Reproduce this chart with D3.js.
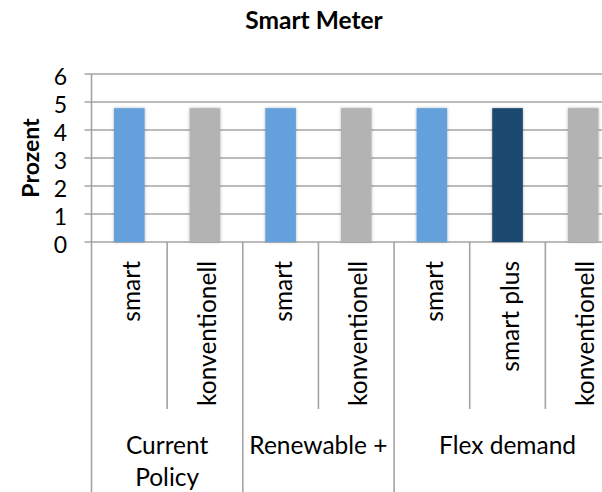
<!DOCTYPE html>
<html>
<head>
<meta charset="utf-8">
<script src="https://cdn.jsdelivr.net/npm/d3@7"></script>
<style>
  html, body { margin: 0; padding: 0; background: #ffffff; }
  svg { display: block; font-family: Lato, "Noto Sans", sans-serif; }
</style>
</head>
<body>
<svg id="chart" width="602" height="492"></svg>
<script>
// Scenario groups with their label lines (as wrapped under the axis)
const groupNames = ["Current Policy", "Renewable +", "Flex demand"];
const groupLines = [["Current", "Policy"], ["Renewable +"], ["Flex demand"]];
// Meter types, one bar each, and the group each one belongs to
const categories = ["smart", "konventionell", "smart", "konventionell", "smart", "smart plus", "konventionell"];
const categoryGroup = [0, 0, 1, 1, 2, 2, 2];
// Share in percent
const values = [4.78, 4.78, 4.78, 4.78, 4.78, 4.78, 4.78];
// Value axis ticks
const yTicks = [0, 1, 2, 3, 4, 5, 6];

const colorByType = { "smart": "#64a0dc", "smart plus": "#1f4970", "konventionell": "#b3b3b3" };
const gridColor = "#a3a3a3";

const svg = d3.select("#chart");
const defs = svg.append("defs");
const shadow = defs.append("filter").attr("id", "barShadow")
  .attr("x", "-30%").attr("y", "-5%").attr("width", "160%").attr("height", "110%");
shadow.append("feDropShadow").attr("dx", 0).attr("dy", 0).attr("stdDeviation", 1.8)
  .attr("flood-color", "#000").attr("flood-opacity", 0.3);

// Plot area (the category axis runs past the right edge of the view)
const plotLeft = 91.5, plotRight = 621, plotTop = 74, zeroY = 242;
const x = d3.scaleBand().domain(d3.range(categories.length)).range([plotLeft, plotRight]);
const y = d3.scaleLinear().domain([0, 6]).range([zeroY, plotTop]);
const barW = x.bandwidth() * 0.405;

// Title
svg.append("text").attr("x", 314).attr("y", 29).attr("text-anchor", "middle")
  .attr("font-weight", "bold").attr("font-size", 24.5).attr("fill", "#000").text("Smart Meter");

// Horizontal gridlines with short outside ticks
svg.append("g").selectAll("line").data(yTicks).join("line")
  .attr("x1", plotLeft - 7).attr("x2", plotRight)
  .attr("y1", d => y(d)).attr("y2", d => y(d))
  .attr("stroke", gridColor).attr("stroke-width", 1.6);

// Value axis labels
svg.append("g").selectAll("text").data(yTicks).join("text")
  .attr("x", 67).attr("y", d => y(d)).attr("dy", "0.47em")
  .attr("text-anchor", "end").attr("font-size", 23).attr("fill", "#000")
  .text(d => d);

// Value axis title
svg.append("text").attr("transform", `translate(39,${(plotTop + zeroY) / 2}) rotate(-90)`)
  .attr("text-anchor", "middle").attr("font-weight", "bold").attr("font-size", 23)
  .attr("fill", "#000").text("Prozent");

// Bars
svg.append("g").selectAll("rect").data(values).join("rect")
  .attr("x", (d, i) => x(i) + (x.bandwidth() - barW) / 2)
  .attr("width", barW)
  .attr("y", d => y(d))
  .attr("height", d => y(0) - y(d))
  .attr("fill", (d, i) => colorByType[categories[i]])
  .attr("filter", "url(#barShadow)");

// Vertical axis line
svg.append("line").attr("x1", plotLeft).attr("x2", plotLeft).attr("y1", plotTop).attr("y2", 492)
  .attr("stroke", gridColor).attr("stroke-width", 1.6);

// Category separators: short ones inside a group, long ones between groups
const bounds = d3.range(categories.length + 1);
const isGroupEdge = i => i === 0 || i === categories.length || categoryGroup[i] !== categoryGroup[i - 1];
const edgeX = i => i === categories.length ? plotRight : x(i);
svg.append("g").selectAll("line").data(bounds.filter(i => i > 0)).join("line")
  .attr("x1", edgeX).attr("x2", edgeX)
  .attr("y1", zeroY).attr("y2", i => isGroupEdge(i) ? 492 : 409)
  .attr("stroke", gridColor).attr("stroke-width", 1.6);

// Meter type labels, rotated
svg.append("g").selectAll("text").data(categories).join("text")
  .attr("transform", (d, i) => `translate(${x(i) + x.bandwidth() / 2 + 11},261) rotate(-90)`)
  .attr("text-anchor", "end").attr("font-size", 24.5).attr("fill", "#000")
  .text(d => d);

// Scenario labels, centred under each group
const groupSpan = groupNames.map((g, gi) => {
  const idx = categoryGroup.map((c, i) => c === gi ? i : -1).filter(i => i >= 0);
  return [x(idx[0]), x(idx[idx.length - 1]) + x.bandwidth()];
});
const gl = svg.append("g").selectAll("text").data(groupLines).join("text")
  .attr("text-anchor", "middle").attr("font-size", 24.5).attr("fill", "#000");
gl.selectAll("tspan").data((lines, gi) => lines.map(t => ({ t, gi }))).join("tspan")
  .attr("x", d => (groupSpan[d.gi][0] + groupSpan[d.gi][1]) / 2)
  .attr("y", (d, j) => 454 + j * 32)
  .text(d => d.t);
</script>
</body>
</html>
